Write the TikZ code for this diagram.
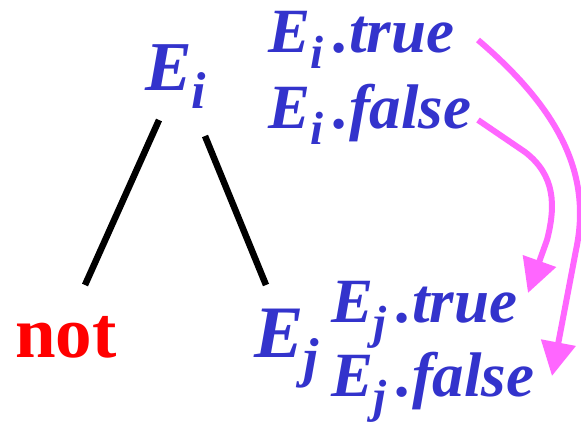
\documentclass[tikz,border=0pt]{standalone}
\usepackage{fontspec}
\setmainfont{Liberation Serif}
\newfontfamily\tbi{Liberation Serif Bold Italic}
\usetikzlibrary{arrows.meta}
\definecolor{eblue}{HTML}{3333CC}
\definecolor{pinkarrow}{HTML}{FF66FF}
\definecolor{notred}{HTML}{FF0000}
\newcommand\mysub[1]{\raisebox{-0.26em}{\scalebox{0.74}{#1}}}
\tikzset{
  lbl/.style={text=eblue, inner sep=0pt, anchor=base west},
  treeline/.style={line width=6.5pt, black},
  flow/.style={line width=6pt, pinkarrow, -{Triangle[length=34pt,width=34pt]}}
}
\begin{document}
\begin{tikzpicture}[x=1pt,y=-1pt]
\useasboundingbox (0,0) rectangle (581,423);
\fill[white] (0,0) rectangle (581,423);
% tree nodes
\node[lbl, font=\fontsize{70}{70}\tbi] (Ei) at (145,90) {E\mysub{i}};
\node[inner sep=0pt, anchor=base west, text=notred, font=\fontsize{73}{73}\bfseries] (not) at (15,357) {not};
\node[lbl, font=\fontsize{74}{74}\tbi] (Ej) at (254,357) {E\mysub{j}};
% attribute labels
\node[lbl, font=\fontsize{63}{63}\tbi] (Eit) at (268,52) {E\mysub{i}\hspace{0.16em}.true};
\node[lbl, font=\fontsize{63}{63}\tbi] (Eif) at (268,128) {E\mysub{i}\hspace{0.16em}.false};
\node[lbl, font=\fontsize{63}{63}\tbi] (Ejt) at (331,322) {E\mysub{j}\hspace{0.16em}.true};
\node[lbl, font=\fontsize{63}{63}\tbi] (Ejf) at (331,396) {E\mysub{j}\hspace{0.16em}.false};
% tree edges
\coordinate (l1a) at (159,120);
\coordinate (l1b) at (85,285);
\coordinate (l2a) at (205,136);
\coordinate (l2b) at (266,285);
\draw[treeline] (l1a) -- (l1b);
\draw[treeline] (l2a) -- (l2b);
% flow arrows
\coordinate (s1) at (478,40);
\coordinate (t1) at (552,376);
\coordinate (s2) at (478,120);
\coordinate (t2) at (528,293);
\draw[flow] (s1) .. controls (560,110) and (592,175) .. (576,250) -- (t1);
\draw[flow] (s2) -- (525,152) .. controls (555,175) and (556,205) .. (547,240) -- (t2);
\end{tikzpicture}
\end{document}
